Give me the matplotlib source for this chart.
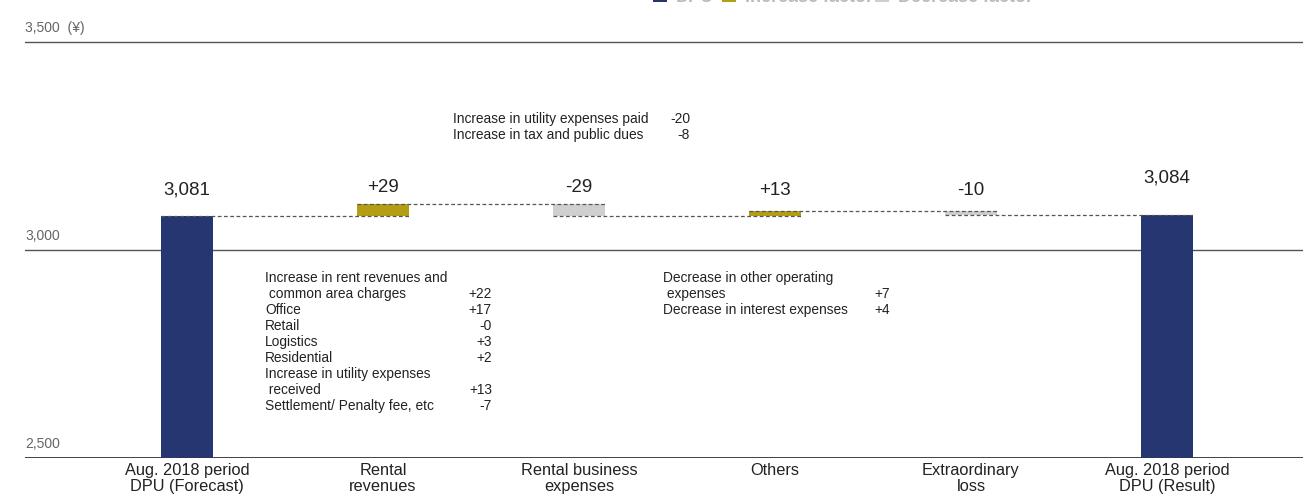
import matplotlib
matplotlib.use("Agg")
import matplotlib.pyplot as plt
from matplotlib.patches import Rectangle

plt.rcParams['font.family'] = ['Liberation Sans', 'DejaVu Sans']

# DPU bridge, Aug. 2018 period (yen)
categories = ["Aug. 2018 period\nDPU (Forecast)", "Rental\nrevenues", "Rental business\nexpenses",
              "Others", "Extraordinary\nloss", "Aug. 2018 period\nDPU (Result)"]
dpu_forecast = 3081
changes = [29, -29, 13, -10]
dpu_result = 3084
y_ticks = [2500, 3000, 3500]
legend_labels = ["DPU", "Increase factor", "Decrease factor"]

rent_notes = [("Increase in rent revenues and", ""), (" common area charges", "+22"),
              ("Office", "+17"), ("Retail", "-0"), ("Logistics", "+3"), ("Residential", "+2"),
              ("Increase in utility expenses", ""), (" received", "+13"),
              ("Settlement/ Penalty fee, etc", "-7")]
expense_notes = [("Increase in utility expenses paid", "-20"), ("Increase in tax and public dues", "-8")]
other_notes = [("Decrease in other operating", ""), (" expenses", "+7"),
               ("Decrease in interest expenses", "+4")]

NAVY = "#253670"
GOLD = "#b49e14"
GREY = "#cfcfcf"
TXT = "#222222"

W, H = 1303, 495
fig = plt.figure(figsize=(W / 100, H / 100), dpi=100)


def px(x, y):
    return x / W, 1 - y / H


ax = fig.add_axes([25 / W, 37 / H, 1278 / W, 458 / H])
ax.set_xlim(-0.8265, 5.694)
ax.set_ylim(2500, 3601)
ax.axis("off")

for t in y_ticks:
    ax.axhline(t, color="#333333" if t == 2500 else "#555555", lw=1.3 if t == 2500 else 1.0, zorder=1)
    lab = f"{t:,}" + ("  (¥)" if t == max(y_ticks) else "")
    ax.annotate(lab, (0, t), xycoords=("axes fraction", "data"), xytext=(0, 5),
                textcoords="offset points", ha="left", va="bottom", fontsize=10, color="#666666")

bw = 0.265
# start / end bars
ax.bar([0, 5], [dpu_forecast, dpu_result], width=bw, color=NAVY, zorder=2)

# floating change bars and running levels
levels = [dpu_forecast]
for i, d in enumerate(changes):
    start = levels[-1]
    ax.bar(i + 1, d, bottom=start, width=bw, color=GOLD if d > 0 else GREY, zorder=2)
    levels.append(start + d)

# dashed connectors: level after bar i runs from bar i to bar i+1
for i, lv in enumerate(levels):
    ax.plot([i - bw / 2, i + 1 + bw / 2], [lv, lv], color="#555555", lw=0.9,
            ls=(0, (3, 2)), zorder=3)

# value labels
label_vals = [f"{dpu_forecast:,}"] + [f"{d:+d}" for d in changes] + [f"{dpu_result:,}"]
label_tops = [dpu_forecast] + [max(levels[i], levels[i + 1]) for i in range(len(changes))] + [dpu_result]
label_off = [13, 6, 6, 8.5, 8.5, 20.5]
for i, (s, top) in enumerate(zip(label_vals, label_tops)):
    ax.annotate(s, (i, top), xytext=(0, label_off[i]), textcoords="offset points",
                ha="center", va="bottom", fontsize=13.5, color=TXT)

# category labels
for i, c in enumerate(categories):
    ax.annotate(c, (i, 2500), xytext=(0, -3.5), textcoords="offset points", ha="center",
                va="top", fontsize=11.8, color=TXT, linespacing=1.12)


def note_block(rows, x0, x1, y0):
    for k, (name, val) in enumerate(rows):
        y = y0 + 16 * k
        fig.text(*px(x0, y), name, ha="left", va="center", fontsize=9.9, color=TXT)
        if val:
            fig.text(*px(x1, y), val, ha="right", va="center", fontsize=9.9, color=TXT)


note_block(rent_notes, 265, 492, 278)
note_block(expense_notes, 453, 690, 119)
note_block(other_notes, 663, 890, 278)

# legend strip at the top edge
sq = [(653, NAVY), (722, GOLD), (875, GREY)]
txt_x = [676, 745, 898]
for (x, c), lab, tx in zip(sq, legend_labels, txt_x):
    fig.patches.append(Rectangle(px(x, 2), 14 / W, 14 / H, transform=fig.transFigure,
                                 facecolor=c, edgecolor="none"))
    fig.text(*px(tx, 1.5), lab, ha="left", va="baseline", fontsize=13, color="#bbbbbb",
             fontweight="bold")

fig.savefig("out.png", dpi=100)
